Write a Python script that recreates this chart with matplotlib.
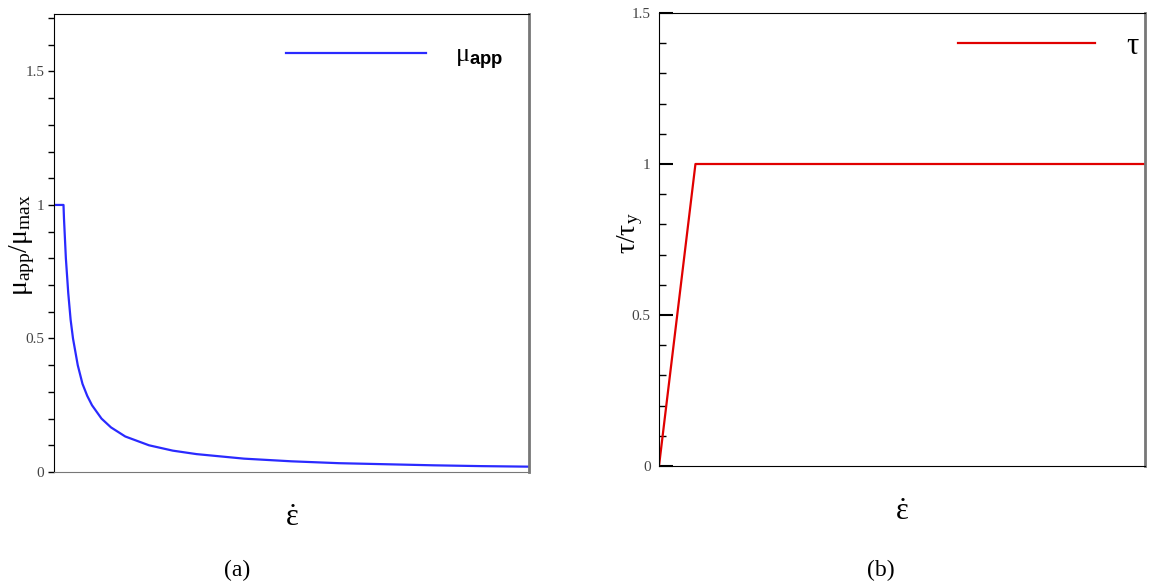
import matplotlib
matplotlib.use("Agg")
import matplotlib.pyplot as plt
from matplotlib.ticker import MultipleLocator, NullLocator

# values (x axis is unlabelled, taken as 0..1)
strain_a = [0.0, 0.020, 0.021, 0.025, 0.030, 0.035, 0.040, 0.050, 0.060, 0.070,
            0.080, 0.100, 0.120, 0.150, 0.200, 0.250, 0.300, 0.400, 0.500,
            0.600, 0.700, 0.800, 0.900, 1.000]
mu_app = [1.0, 1.0, 0.95, 0.80, 0.67, 0.57, 0.50, 0.40, 0.33, 0.285,
          0.25, 0.20, 0.167, 0.133, 0.10, 0.08, 0.067, 0.05, 0.04,
          0.033, 0.029, 0.025, 0.022, 0.02]

strain_b = [0.0, 0.075, 1.0]
tau = [0.0, 1.0, 1.0]

plt.rcParams['mathtext.fontset'] = 'custom'
plt.rcParams['mathtext.rm'] = 'Liberation Serif'
plt.rcParams['mathtext.it'] = 'Liberation Serif:italic'
plt.rcParams['mathtext.bf'] = 'Liberation Sans:bold'
plt.rcParams['mathtext.sf'] = 'Liberation Sans'
plt.rcParams['font.family'] = ['Liberation Serif', 'DejaVu Serif']

fig = plt.figure(figsize=(11.51, 5.85), dpi=100)

ax1 = fig.add_axes([54 / 1151, 1 - 472 / 585, 475 / 1151, 458 / 585])
ax2 = fig.add_axes([659 / 1151, 1 - 466 / 585, 486 / 1151, 453 / 585])

eps_dot = r'$\dot{\mathrm{\varepsilon}}$'

# (a) apparent viscosity
ax1.plot(strain_a, mu_app, color='#2a2aff', lw=1.6, label=r'$\mathrm{\mu}_{\mathbf{app}}$')
ax1.set_xlim(0, 1)
ax1.set_ylim(0, 1.715)
ax1.yaxis.set_major_locator(MultipleLocator(0.5))
ax1.yaxis.set_minor_locator(MultipleLocator(0.1))
ax1.xaxis.set_major_locator(NullLocator())
ax1.tick_params(axis='y', which='both', direction='out', length=4, width=1,
                labelsize=11, labelcolor='#444444', pad=3)
ax1.set_yticks([0, 0.5, 1, 1.5])
ax1.set_yticklabels(['0', '0.5', '1', '1.5'])
ax1.set_ylabel(r'$\mathrm{\mu}_{\mathrm{app}}/\mathrm{\mu}_{\mathrm{max}}$', fontsize=20)
ax1.yaxis.set_label_coords(-0.036, 0.496)
ax1.set_xlabel(eps_dot, fontsize=22, labelpad=23)
ax1.spines['right'].set_color('#777777')
ax1.spines['bottom'].set_color('#777777')
ax1.spines['right'].set_linewidth(2)
ax1.legend(loc='upper right', frameon=False, fontsize=19, handlelength=5.3,
           handletextpad=1.1, borderaxespad=0.3, bbox_to_anchor=(0.985, 0.975))

# (b) shear stress
ax2.plot(strain_b, tau, color='#e00000', lw=1.6, label='τ')
ax2.set_xlim(0, 1)
ax2.set_ylim(0, 1.5)
ax2.yaxis.set_major_locator(MultipleLocator(0.5))
ax2.yaxis.set_minor_locator(MultipleLocator(0.1))
ax2.xaxis.set_major_locator(NullLocator())
ax2.tick_params(axis='y', which='major', direction='in', length=10, width=1.5,
                labelsize=11, labelcolor='#444444', pad=6)
ax2.tick_params(axis='y', which='minor', direction='in', length=5, width=1)
ax2.set_yticks([0, 0.5, 1, 1.5])
ax2.set_yticklabels(['0', '0.5', '1', '1.5'])
ax2.set_ylabel(r'$\mathrm{\tau}/\mathrm{\tau}_{\mathrm{y}}$', fontsize=20)
ax2.yaxis.set_label_coords(-0.029, 0.514)
ax2.set_xlabel(eps_dot, fontsize=22, labelpad=23)
ax2.spines['right'].set_color('#777777')
ax2.spines['right'].set_linewidth(2)
ax2.legend(loc='upper right', frameon=False, fontsize=22, handlelength=4.5,
           handletextpad=1.0, borderaxespad=0.3, bbox_to_anchor=(1.03, 1.005))

fig.text(237 / 1151, 1 - 570 / 585, '(a)', fontsize=17, ha='center', va='center')
fig.text(881 / 1151, 1 - 570 / 585, '(b)', fontsize=17, ha='center', va='center')

fig.savefig('out.png', dpi=100)
